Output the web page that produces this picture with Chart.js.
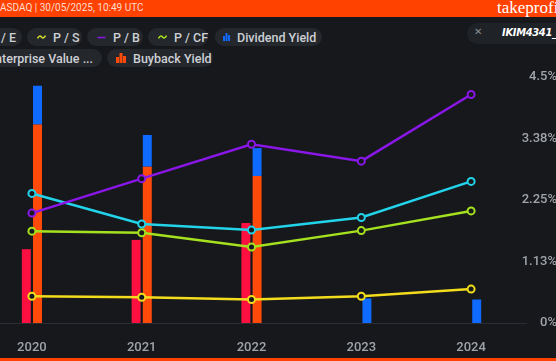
<!DOCTYPE html>
<html><head><meta charset="utf-8">
<script src="https://cdn.jsdelivr.net/npm/chart.js@4.4.1/dist/chart.umd.min.js"></script>
<style>
html,body{margin:0;padding:0;width:556px;height:361px;overflow:hidden;background:#16181c;font-family:Roboto,"Noto Sans",sans-serif;position:relative}
#banner{position:absolute;left:0;top:0;width:556px;height:17px;background:#ff4200;overflow:hidden}
#banner .l{position:absolute;left:0;top:2px;font-size:10px;color:#ffdccf;white-space:nowrap}
#banner .r{position:absolute;left:497px;top:-2px;font-family:"Liberation Serif",serif;font-size:17px;color:#fff;white-space:nowrap}
#foot{position:absolute;left:0;top:358px;width:556px;height:3px;background:#ff4200}
.chip{position:absolute;height:18px;border-radius:9px;background:#24272c;color:#cdd0d5;font-size:12.5px;font-weight:500;display:flex;align-items:center;white-space:nowrap;box-sizing:border-box;padding-left:10px}
.chip svg{margin-right:7px;flex:none}
#wrap{position:absolute;left:-29px;top:70px;width:586px;height:291px}
#user{position:absolute;left:467px;top:23px;width:120px;height:21px;border-radius:10px;background:#1f2226;white-space:nowrap}
#user .x{position:absolute;left:7px;top:3px;font-size:10px;color:#8a8d92}
#user .n{position:absolute;left:35px;top:3px;font-family:"DejaVu Sans Condensed","DejaVu Sans",sans-serif;font-weight:bold;font-style:italic;font-size:11px;color:#fff;letter-spacing:-0.3px}
</style></head>
<body>
<div id="banner"><span class="l">ASDAQ | 30/05/2025, 10:49 UTC</span><span class="r">takeprofit</span></div>

<div class="chip" style="left:-48px;top:28px;width:70px;padding-left:22px"><svg width="9" height="6"><path d="M0.5 4.5 Q2.5 0.5 4.5 3 T8.5 1.5" stroke="#22d3ea" fill="none" stroke-width="1.5"/></svg>P / E</div>
<div class="chip" style="left:27px;top:28px;width:55px"><svg width="9" height="6"><path d="M0.5 4.5 Q2.5 0.5 4.5 3 T8.5 1.5" stroke="#d2dc2a" fill="none" stroke-width="1.5"/></svg>P / S</div>
<div class="chip" style="left:87px;top:28px;width:56px"><svg width="9" height="6"><path d="M0.5 3.5 L8.5 3.5" stroke="#8a16e8" fill="none" stroke-width="1.5"/></svg>P / B</div>
<div class="chip" style="left:148px;top:28px;width:60px"><svg width="9" height="6"><path d="M0.5 4.5 Q2.5 0.5 4.5 3 T8.5 1.5" stroke="#a5e11f" fill="none" stroke-width="1.5"/></svg>P / CF</div>
<div class="chip" style="left:215px;top:28px;width:107px;padding-left:8px"><svg width="7" height="8"><rect x="0" y="3" width="2" height="5" fill="#0f6bff"/><rect x="2.5" y="0" width="2" height="8" fill="#0f6bff"/><rect x="5" y="2" width="2" height="6" fill="#0f6bff"/></svg>Dividend Yield</div>
<div class="chip" style="left:-48px;top:49px;width:150px;padding-left:22px"><svg width="7" height="8"><rect x="0" y="3" width="2" height="5" fill="#ff1040"/><rect x="2.5" y="0" width="2" height="8" fill="#ff1040"/><rect x="5" y="2" width="2" height="6" fill="#ff1040"/></svg>Enterprise Value ...</div>
<div class="chip" style="left:107px;top:49px;width:106px;padding-left:9px"><svg width="10" height="10"><rect x="0" y="4" width="3" height="6" fill="#ff4a0a"/><rect x="3.5" y="0" width="3" height="10" fill="#ff4a0a"/><rect x="7" y="3" width="3" height="7" fill="#ff4a0a"/></svg>Buyback Yield</div>

<div id="user"><span class="x">✕</span><span class="n">IKIM4341_3</span></div>

<div id="wrap"><canvas id="c" width="586" height="291"></canvas></div>
<div id="foot"></div>

<script>
const categories = ['2020', '2021', '2022', '2023', '2024'];
const evYield = [1.35, 1.52, 1.83, 0, 0];
const buybackYield = [3.63, 2.86, 2.69, 0, 0];
const dividendYield = [0.71, 0.58, 0.51, 0.45, 0.43];
const pe = [2.37, 1.81, 1.70, 1.93, 2.59];
const ps = [0.49, 0.47, 0.43, 0.49, 0.62];
const pb = [2.01, 2.64, 3.27, 2.96, 4.18];
const pcf = [1.68, 1.65, 1.39, 1.69, 2.05];
const yTickValues = [0, 1.125, 2.25, 3.375, 4.5];
const yTickLabels = ['0%', '1.13%', '2.25%', '3.38%', '4.5%'];

const barCommon = {type: 'bar', yAxisID: 'y', categoryPercentage: 0.204, barPercentage: 0.8, borderWidth: 0, order: 10};
function lineDs(label, data, color, order) {
  return {type: 'line', label, data, yAxisID: 'yr', borderColor: color, borderWidth: 2.5,
    pointRadius: 3.5, pointBorderWidth: 2, pointBackgroundColor: '#17191d', pointBorderColor: color,
    tension: 0, order, fill: false};
}

new Chart(document.getElementById('c'), {
  data: {
    labels: categories,
    datasets: [
      Object.assign({label: 'Enterprise Value ...', data: evYield, backgroundColor: '#ff1040', stack: 'ev'}, barCommon),
      Object.assign({label: 'Buyback Yield', data: buybackYield, backgroundColor: '#ff4a0a', stack: 'sh'}, barCommon),
      Object.assign({label: 'Dividend Yield', data: dividendYield, backgroundColor: '#0f6bff', stack: 'sh'}, barCommon),
      lineDs('P / S', ps, '#f2dc1c', 4),
      lineDs('P / CF', pcf, '#a5e11f', 3),
      lineDs('P / E', pe, '#22d3ea', 2),
      lineDs('P / B', pb, '#8a16e8', 1)
    ]
  },
  options: {
    responsive: false,
    animation: false,
    layout: {padding: {left: 0, right: 0, top: 7, bottom: 0}},
    plugins: {legend: {display: false}, tooltip: {enabled: false}},
    scales: {
      x: {
        type: 'category', offset: true, stacked: true,
        grid: {display: false},
        border: {display: true, color: '#2a2d33', width: 1},
        ticks: {color: '#a0a4aa', font: {family: 'Roboto', size: 13, weight: '500'}, padding: 9, maxRotation: 0},
        afterFit: s => { s.height = 38; }
      },
      y: {
        position: 'right', stacked: true, min: 0, max: 4.5,
        grid: {display: false}, border: {display: false},
        afterBuildTicks: s => { s.ticks = yTickValues.map(v => ({value: v})); },
        ticks: {color: '#a0a4aa', font: {family: 'Roboto', size: 13, weight: '500'}, mirror: true, padding: 31, crossAlign: 'near',
          callback: (v, i) => yTickLabels[i]},
        afterFit: s => { s.width = 31; s.paddingTop = 7; s.paddingBottom = 7; }
      },
      yr: {display: false, min: 0, max: 4.5}
    }
  }
});
</script>
</body></html>
